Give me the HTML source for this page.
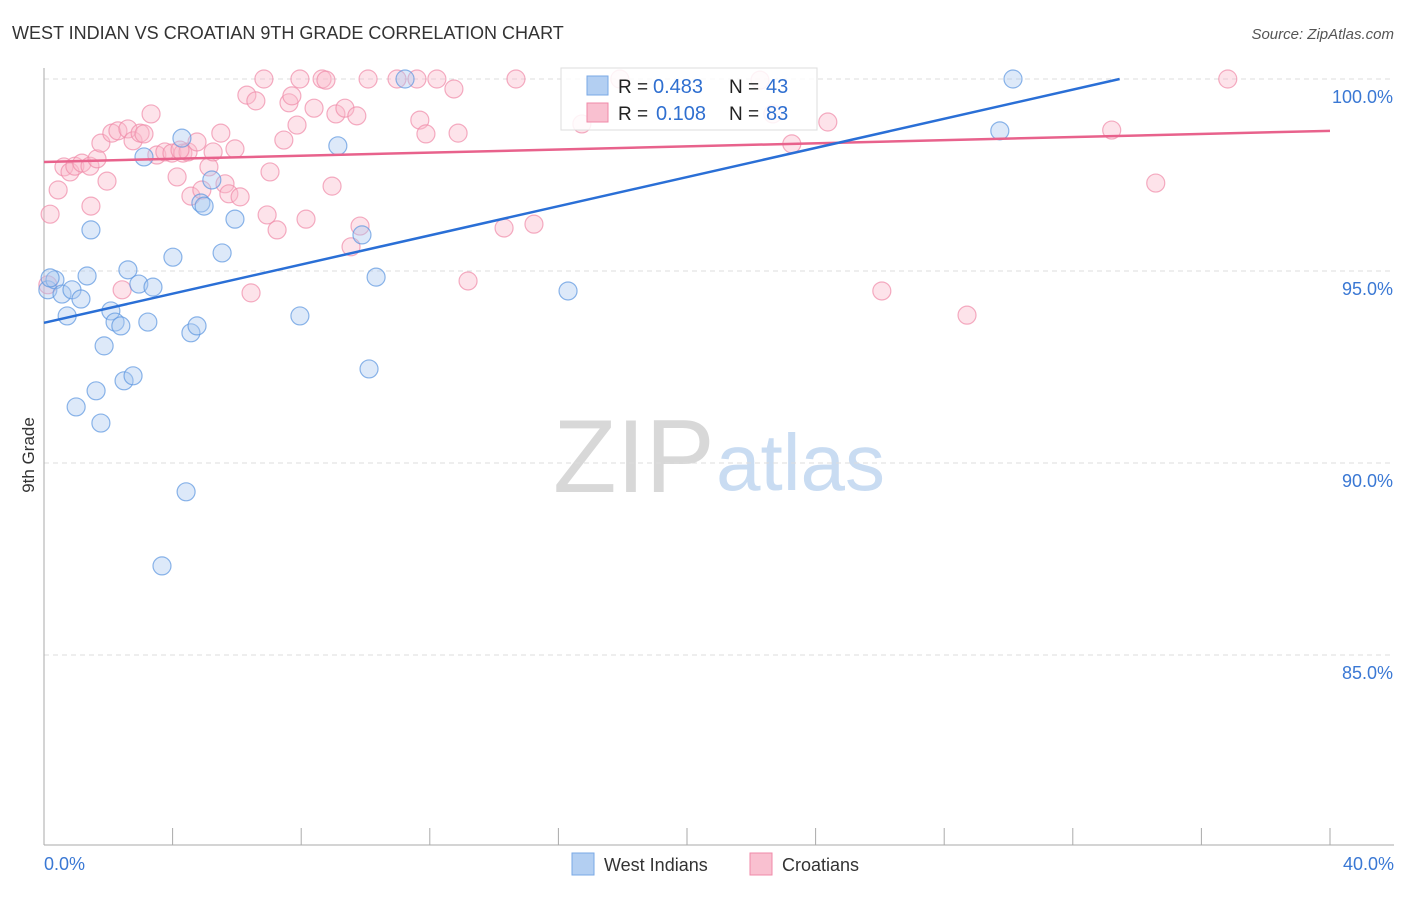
<!DOCTYPE html>
<html><head><meta charset="utf-8"><style>
body{margin:0;background:#fff;font-family:"Liberation Sans",sans-serif}
svg text{font-family:"Liberation Sans",sans-serif}
</style></head><body>
<svg id="chart" width="1406" height="892" xmlns="http://www.w3.org/2000/svg">
<text x="12" y="39" font-size="18" fill="#333">WEST INDIAN VS CROATIAN 9TH GRADE CORRELATION CHART</text>
<text x="1394" y="39" font-size="15" font-style="italic" fill="#555" text-anchor="end">Source: ZipAtlas.com</text>
<text x="553" y="492" font-size="104" font-family="Liberation Serif" fill="#d8d8d8">ZIP</text>
<text x="716" y="490" font-size="80" fill="#c9dcf2">atlas</text>
<g id="grid"></g><g id="axes"></g><g id="pts"></g><g id="lines"></g>
<text transform="translate(34,455) rotate(-90)" font-size="17" fill="#333" text-anchor="middle">9th Grade</text>
<g>
<rect x="561" y="68" width="256" height="62" fill="#fff" fill-opacity="0.85" stroke="#ddd"/>
<rect x="587" y="76" width="21" height="19" fill="#b3cff2" stroke="#7aa8e6"/>
<rect x="587" y="103" width="21" height="19" fill="#f9c0d0" stroke="#f08aa8"/>
<text x="618" y="93" font-size="19" fill="#222">R =</text>
<text x="653" y="93" font-size="20" fill="#2f6fd0">0.483</text>
<text x="729" y="93" font-size="19" fill="#222">N =</text>
<text x="766" y="93" font-size="20" fill="#2f6fd0">43</text>
<text x="618" y="120" font-size="19" fill="#222">R =</text>
<text x="656" y="120" font-size="20" fill="#2f6fd0">0.108</text>
<text x="729" y="120" font-size="19" fill="#222">N =</text>
<text x="766" y="120" font-size="20" fill="#2f6fd0">83</text>
</g>
<g>
<rect x="572" y="853" width="22" height="22" fill="#b3cff2" stroke="#7aa8e6"/>
<text x="604" y="871" font-size="18" fill="#333">West Indians</text>
<rect x="750" y="853" width="22" height="22" fill="#f9c0d0" stroke="#f08aa8"/>
<text x="782" y="871" font-size="18" fill="#333">Croatians</text>
</g>
</svg>
<script>
const yTicks=[100,95,90,85];
const yTickLabels=["100.0%","95.0%","90.0%","85.0%"];
const xTickLabels=["0.0%","40.0%"];
const blueX=[0.12,0.34,0.56,0.72,0.87,1.15,1.34,1.46,1.87,2.08,2.21,2.39,2.49,2.61,2.77,2.95,3.11,3.23,3.39,4.01,4.29,4.42,3.67,4.57,4.76,4.88,4.98,5.22,5.54,5.94,7.96,9.14,9.89,10.11,10.33,11.23,16.30,29.73,30.14,1.00,1.62,1.77,0.19];
const blueY=[94.51,94.77,94.40,93.83,94.51,94.27,94.87,96.07,93.05,93.96,93.67,93.57,92.14,95.03,92.27,94.66,97.97,93.67,94.58,95.36,98.46,89.25,87.32,93.39,93.57,96.77,96.69,97.37,95.47,96.35,93.83,98.26,95.94,92.45,94.84,100,94.48,98.65,100,91.46,91.88,91.04,94.82];
const pinkX=[0.19,0.44,0.62,0.81,0.96,1.18,1.43,1.65,1.46,1.96,1.77,2.11,2.30,2.61,2.77,2.99,3.11,3.33,3.51,3.76,3.98,4.14,4.32,4.48,4.57,4.76,4.91,5.13,5.26,5.50,5.63,5.75,5.94,6.10,6.31,6.59,6.84,6.94,7.03,7.25,7.46,7.62,7.71,7.87,7.96,8.15,8.40,8.65,8.77,8.96,9.08,9.36,9.55,9.73,9.83,10.08,10.98,11.69,11.60,11.88,12.22,12.75,12.88,14.31,14.68,15.24,13.19,16.73,17.91,22.27,22.67,23.26,24.38,26.06,28.71,33.21,34.58,36.82,2.43,6.44,0.12,4.23];
const pinkY=[96.48,97.11,97.71,97.58,97.73,97.81,97.73,97.92,96.69,97.34,98.33,98.59,98.65,98.70,98.39,98.59,98.57,99.09,98.02,98.10,98.07,97.45,98.07,98.10,96.95,98.36,97.11,97.71,98.10,98.59,97.27,97.01,98.18,96.93,99.58,99.43,100,96.46,97.58,96.07,98.41,99.38,99.56,98.80,100,96.35,99.24,100,99.97,97.21,99.09,99.24,95.63,99.04,96.17,100,100,98.93,100,98.57,100,99.74,98.59,96.12,100,96.22,94.74,98.83,100,99.97,99.09,98.31,98.88,94.48,93.85,98.67,97.29,100,94.51,94.43,94.64,98.15];
const blueLine=[93.65,0.1898];
const pinkLine=[97.84,0.02025];
const NS="http://www.w3.org/2000/svg";
const X0=44,X1=1330,YT=79,YB=845;
const sx=v=>X0+(v/40)*(X1-X0);
const sy=v=>YT+(100-v)/5*192;
function mk(tag,attrs,parent){const e=document.createElementNS(NS,tag);for(const k in attrs)e.setAttribute(k,attrs[k]);parent.appendChild(e);return e;}
const grid=document.getElementById('grid'),axes=document.getElementById('axes'),pts=document.getElementById('pts'),lines=document.getElementById('lines');
yTicks.forEach((t,i)=>{
 const l=mk('line',{x1:X0,x2:1394,y1:sy(t),y2:sy(t),stroke:'#ddd','stroke-dasharray':'5,4'},grid);
 
 
 const tx=mk('text',{x:1393,y:sy(t)+24,'font-size':18,fill:'#3a78d4','text-anchor':'end'},axes);
 tx.textContent=yTickLabels[i];
 
 
});
const ya=mk('line',{x1:X0,x2:X0,y1:68,y2:YB,stroke:'#aaa'},axes);


const xa=mk('line',{x1:X0,x2:1394,y1:YB,y2:YB,stroke:'#aaa'},axes);


for(let i=0;i<=10;i++){const tk=mk('line',{x1:sx(i*4),x2:sx(i*4),y1:YB,y2:YB-17,stroke:'#aaa'},axes);
 
 }
[[0,'start',44],[40,'end',1394]].forEach((d,i)=>{const tx=mk('text',{x:d[2],y:870,'font-size':18,fill:'#3a78d4','text-anchor':d[1]},axes);
 tx.textContent=xTickLabels[i];
 
 });
function drawPts(xs,ys,fill,stroke,name){xs.forEach((x,i)=>{const c=mk('circle',{cx:sx(x),cy:sy(ys[i]),r:9,fill:fill,'fill-opacity':0.4,stroke:stroke,'stroke-opacity':0.7,'stroke-width':1.2},pts);
 
 });}
drawPts(pinkX,pinkY,'#f9b8cb','#f08aa8','croatian-point');
drawPts(blueX,blueY,'#a9c8ef','#5b95e0','west-indian-point');
function drawLine(p,color,name){let xe=40;const ye=p[0]+p[1]*40;if(ye>100)xe=(100-p[0])/p[1];
 const l=mk('line',{x1:sx(0),y1:sy(p[0]),x2:sx(xe),y2:sy(p[0]+p[1]*xe),stroke:color,'stroke-width':2.5},lines);
 
 }
drawLine(pinkLine,'#e8628c','croatian-trend-line');
drawLine(blueLine,'#2a6fd6','west-indian-trend-line');
</script>
</body></html>
